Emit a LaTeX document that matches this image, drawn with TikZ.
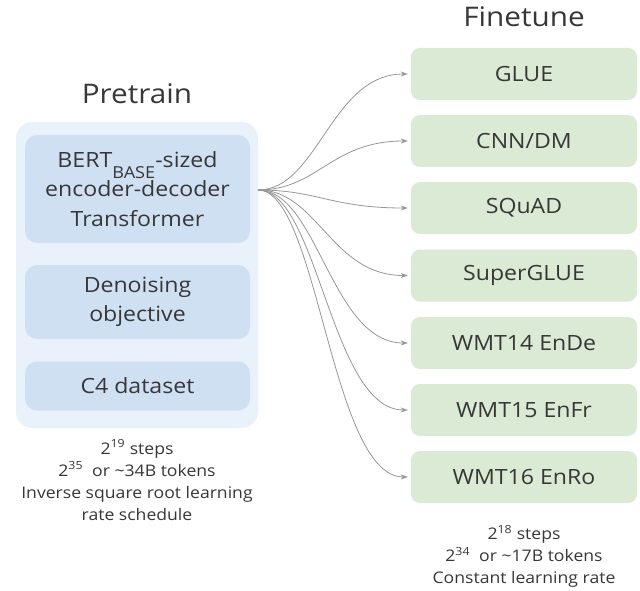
\documentclass[tikz,border=0pt]{standalone}
\usepackage{fontspec}
\setmainfont{Open Sans}[FakeStretch=1.1]
\usetikzlibrary{arrows.meta}
\definecolor{outerblue}{RGB}{233,242,251}
\definecolor{innerblue}{RGB}{207,224,243}
\definecolor{boxgreen}{RGB}{218,234,212}
\definecolor{txt}{RGB}{55,55,55}
\definecolor{arrowgray}{RGB}{150,150,150}
\begin{document}
\begin{tikzpicture}[x=1pt,y=-1pt,
  outerbox/.style={fill=outerblue, rounded corners=16pt, inner sep=0pt, minimum width=242pt, minimum height=306pt},
  bluebox/.style={fill=innerblue, rounded corners=12pt, text=txt, align=center, font=\fontsize{21}{29.5}\selectfont, minimum width=225pt, inner sep=0pt},
  greenbox/.style={fill=boxgreen, rounded corners=9pt, text=txt, font=\fontsize{21}{25}\selectfont, minimum width=226pt, minimum height=52pt, inner sep=0pt},
  title/.style={text=txt, font=\fontsize{27}{30}\selectfont, inner sep=0pt},
  note/.style={text=txt, align=center, font=\fontsize{16}{22}\selectfont, inner sep=0pt},
  link/.style={draw=arrowgray, line width=0.8pt, -{Stealth[length=7pt,width=5pt]}, shorten >=3pt}
]
\useasboundingbox (0,0) rectangle (640,591);

% Pretrain side
\node[title] (pretitle) at (137,94) {Pretrain};
\node[outerbox] (pre) at (137,275) {};
\node[bluebox, minimum height=108pt] (bert) at (137.5,189)
  {BERT\raisebox{-11pt}[0pt][0pt]{\fontsize{16.5}{16.5}\selectfont BASE}-sized\\encoder-decoder\\Transformer};
\node[bluebox, minimum height=74pt] (denoise) at (137.5,302)
  {Denoising\\objective};
\node[bluebox, minimum height=49pt] (c4) at (137.5,386)
  {C4 dataset};
\node[note] (prenote) at (137,480)
  {2\textsuperscript{19} steps\\2\textsuperscript{35}\ \ or \textasciitilde34B tokens\\Inverse square root learning\\rate schedule};

% Finetune side
\node[title] (fttitle) at (524,17) {Finetune};
\node[greenbox] (glue) at (524,74) {GLUE};
\node[greenbox] (cnn) at (524,141) {CNN/DM};
\node[greenbox] (squad) at (524,208) {SQuAD};
\node[greenbox] (sglue) at (524,275.5) {SuperGLUE};
\node[greenbox] (wmta) at (524,343) {WMT14 EnDe};
\node[greenbox] (wmtb) at (524,410) {WMT15 EnFr};
\node[greenbox] (wmtc) at (524,477) {WMT16 EnRo};
\node[note] (ftnote) at (524,556)
  {2\textsuperscript{18} steps\\2\textsuperscript{34}\ \ or \textasciitilde17B tokens\\Constant learning rate};

% Connectors
\coordinate (src) at (258,190);
\foreach \t in {glue,cnn,squad,sglue,wmta,wmtb,wmtc}
  \draw[link] (src) .. controls +(60,0) and +(-80,0) .. (\t.west);
\end{tikzpicture}
\end{document}
